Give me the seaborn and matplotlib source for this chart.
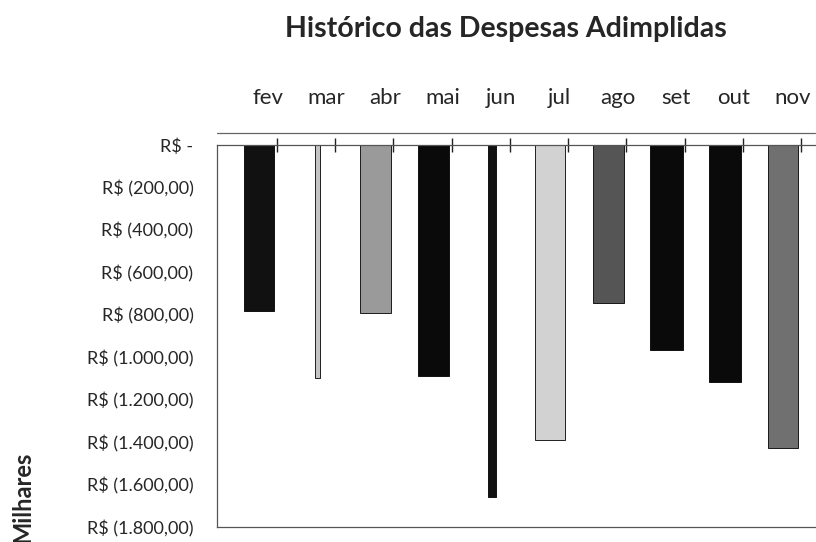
import numpy as np
import pandas as pd
import matplotlib
matplotlib.use("Agg")
import matplotlib.pyplot as plt
import seaborn as sns
from matplotlib.lines import Line2D

# Dados (em milhares de R$)
meses = ['fev', 'mar', 'abr', 'mai', 'jun', 'jul', 'ago', 'set', 'out', 'nov']
despesas = [-780, -1100, -790, -1090, -1660, -1390, -745, -965, -1115, -1430]
y_ticks = [0, -200, -400, -600, -800, -1000, -1200, -1400, -1600, -1800]

# Estilo de cada barra (tons de cinza da impressão)
cores = ['#111111', '#c4c4c4', '#9a9a9a', '#0a0a0a', '#111111',
         '#d2d2d2', '#555555', '#0a0a0a', '#0a0a0a', '#707070']
larguras = [0.52, 0.09, 0.52, 0.53, 0.14, 0.53, 0.53, 0.56, 0.55, 0.53]

df = pd.DataFrame({'mes': meses, 'valor': despesas})

sns.set_style("white")
plt.rcParams['font.family'] = ['Lato', 'DejaVu Sans']

fig = plt.figure(figsize=(8.16, 5.42), dpi=100)
ax = fig.add_axes([217 / 816, 1 - 527 / 542, 598 / 816, 382 / 542])

sns.barplot(data=df, x='mes', y='valor', hue='mes', palette=cores,
            legend=False, ax=ax, saturation=1, width=0.54)

for p, w in zip(ax.patches, larguras):
    c = p.get_x() + p.get_width() / 2
    p.set_width(w)
    p.set_x(c - w / 2)
    p.set_edgecolor('#000000')
    p.set_linewidth(0.6)

ax.set_ylim(-1800, 0)
ax.set_xlim(-0.72, 9.55)

def fmt(v):
    if v == 0:
        return 'R$ -'
    s = f"{abs(v):,.2f}".replace(',', 'X').replace('.', ',').replace('X', '.')
    return f"R$ ({s})"

ax.set_yticks(y_ticks)
ax.set_yticklabels([fmt(v) for v in y_ticks], fontsize=13)
ax.tick_params(axis='y', which='major', direction='inout', length=6,
               width=0.8, color='#444444', pad=14)

# rótulos dos meses no topo (levemente deslocados, efeito 3D)
ax.xaxis.tick_top()
ax.set_xticks(np.arange(len(meses)) + 0.16, labels=meses)
ax.tick_params(axis='x', which='major', length=0, pad=27, labelsize=16)
ax.set_xticks(np.arange(len(meses)) + 0.31, minor=True)
ax.tick_params(axis='x', which='minor', top=True, direction='inout',
               length=10, width=1.0, color='#222222')
ax.set_xlabel('')
ax.set_ylabel('')

for s in ['left', 'top', 'bottom']:
    ax.spines[s].set_visible(True)
    ax.spines[s].set_color('#555555')
    ax.spines[s].set_linewidth(0.9)
ax.spines['right'].set_visible(False)

# linha de fundo (parede 3D)
fig.add_artist(Line2D([217 / 816, 815 / 816], [1 - 133 / 542, 1 - 133 / 542],
                      color='#666666', lw=0.9))

fig.text(506 / 816, 1 - 29 / 542, 'Histórico das Despesas Adimplidas',
         ha='center', va='center', fontsize=20.5, fontweight='bold')
fig.text(23 / 816, 1 - 452 / 542, 'Milhares', rotation=90, ha='center',
         va='top', fontsize=17, fontweight='bold')

fig.savefig('out.png', dpi=100)
